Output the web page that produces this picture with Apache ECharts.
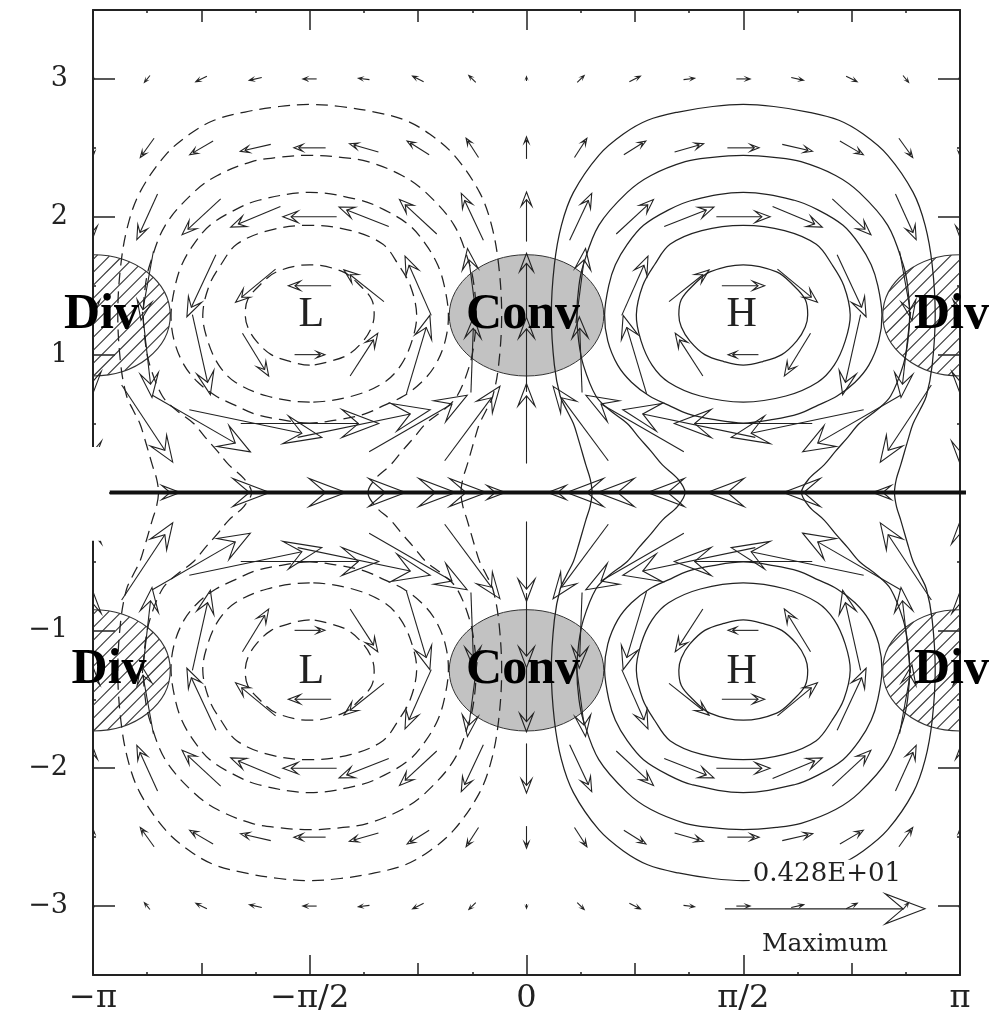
<!DOCTYPE html>
<html>
<head>
<meta charset="utf-8">
<script src="https://cdn.jsdelivr.net/npm/echarts@6/dist/echarts.min.js"></script>
<style>
  html, body { margin: 0; padding: 0; background: #fff; }
  #chart { width: 1002px; height: 1023px; }
</style>
</head>
<body>
<div id="chart"></div>
<script>
const PI = Math.PI;

// axis ticks and labels
const xMajorTicks = [-PI, -PI / 2, 0, PI / 2, PI];
const xTickLabels = ['−π', '−π/2', '0', 'π/2', 'π'];
const xMidTicks = [-3 * PI / 4, -PI / 4, PI / 4, 3 * PI / 4];
const xMinorTicks = [-7 * PI / 8, -5 * PI / 8, -3 * PI / 8, -PI / 8, PI / 8, 3 * PI / 8, 5 * PI / 8, 7 * PI / 8];
const yMajorTicks = [-3, -2, -1, 0, 1, 2, 3];
const yLabelValues = [-3, -2, -1, 1, 2, 3];
const yTickLabels = ['−3', '−2', '−1', '1', '2', '3'];
const yMinorTicks = [-2.5, -1.5, -0.5, 0.5, 1.5, 2.5];

// wind vectors, read for the quadrant x >= 0, y >= 0 (the picture is mirror symmetric)
const windX = [0, PI / 8, PI / 4, 3 * PI / 8, PI / 2, 5 * PI / 8, 3 * PI / 4, 7 * PI / 8, PI];
const windY = [0, 0.5, 1, 1.5, 2, 2.5, 3];
const windU = [
  [0, -0.48, -0.99, -1.33, -1.39, -1.31, -0.99, -0.48, 0],
  [0, -0.40, -0.71, -0.96, -1.00, -0.96, -0.71, -0.37, 0],
  [0, -0.02, -0.17, -0.20, -0.22, -0.19, -0.13, -0.07, 0],
  [0, 0.07, 0.19, 0.29, 0.31, 0.29, 0.21, 0.09, 0],
  [0, 0.16, 0.27, 0.36, 0.39, 0.36, 0.28, 0.15, 0],
  [0, 0.09, 0.16, 0.21, 0.23, 0.22, 0.17, 0.10, 0],
  [0, 0.05, 0.08, 0.08, 0.10, 0.09, 0.08, 0.04, 0]
];
const windV = [
  [0, 0, 0, 0, 0, 0, 0, 0, 0],
  [0.58, 0.54, 0.41, 0.20, 0, -0.20, -0.41, -0.56, -0.58],
  [0.54, 0.55, 0.57, 0.31, 0, -0.31, -0.58, -0.62, -0.56],
  [0.47, 0.54, 0.43, 0.23, 0, -0.24, -0.45, -0.50, -0.47],
  [0.36, 0.34, 0.25, 0.14, 0, -0.15, -0.26, -0.33, -0.30],
  [0.16, 0.14, 0.10, 0.06, 0, -0.05, -0.10, -0.14, -0.12],
  [0.03, 0.05, 0.04, 0.01, 0, -0.02, -0.04, -0.05, -0.03]
];

// pressure contours around H (upper right quadrant), closed ones
const contourE = [[1.571,0.924],[1.712,0.95],[1.85,1.0],[1.959,1.1],[2.02,1.2],[2.038,1.29],[2.02,1.4],[1.937,1.5],[1.813,1.6],[1.571,1.652],[1.329,1.6],[1.205,1.5],[1.122,1.4],[1.104,1.29],[1.122,1.2],[1.183,1.1],[1.292,1.0],[1.43,0.95]];
const contourD = [[1.571,0.656],[1.88,0.7],[2.11,0.8],[2.23,0.924],[2.31,1.1],[2.346,1.29],[2.3,1.5],[2.215,1.652],[2.1,1.8],[1.87,1.9],[1.571,1.938],[1.27,1.9],[1.04,1.8],[0.928,1.652],[0.842,1.5],[0.796,1.29],[0.83,1.1],[0.91,0.924],[1.03,0.8],[1.26,0.7]];
const contourC = [[1.571,0.504],[1.79,0.53],[1.971,0.57],[2.114,0.634],[2.251,0.7],[2.381,0.8],[2.481,0.924],[2.553,1.1],[2.576,1.29],[2.546,1.5],[2.498,1.652],[2.412,1.8],[2.294,1.938],[2.112,2.05],[1.941,2.12],[1.571,2.177],[1.201,2.12],[1.03,2.05],[0.848,1.938],[0.73,1.8],[0.644,1.652],[0.596,1.5],[0.566,1.29],[0.589,1.1],[0.661,0.924],[0.761,0.8],[0.891,0.7],[1.028,0.634],[1.171,0.57],[1.352,0.53]];
// outer contours, from equator to equator (they close through the lower half)
const contourB = [[1.149,0],[1.095,0.1],[0.985,0.2],[0.902,0.3],[0.814,0.4],[0.73,0.5],[0.6,0.6],[0.503,0.7],[0.412,0.924],[0.378,1.1],[0.365,1.29],[0.38,1.5],[0.412,1.652],[0.524,1.938],[0.73,2.177],[0.902,2.3],[1.15,2.4],[1.33,2.43],[1.571,2.446],[1.81,2.43],[1.99,2.4],[2.24,2.3],[2.412,2.177],[2.618,1.938],[2.73,1.652],[2.762,1.5],[2.777,1.29],[2.764,1.1],[2.73,0.924],[2.639,0.7],[2.541,0.6],[2.412,0.5],[2.328,0.4],[2.24,0.3],[2.157,0.2],[2.047,0.1],[1.993,0]];
const contourA = [[0.475,0],[0.461,0.1],[0.43,0.2],[0.372,0.4],[0.34,0.5],[0.29,0.6],[0.244,0.7],[0.202,0.924],[0.18,1.29],[0.202,1.652],[0.253,1.938],[0.34,2.177],[0.524,2.446],[0.702,2.6],[0.878,2.7],[1.1,2.76],[1.35,2.8],[1.571,2.815],[1.792,2.8],[2.04,2.76],[2.264,2.7],[2.44,2.6],[2.618,2.446],[2.802,2.177],[2.889,1.938],[2.94,1.652],[2.962,1.29],[2.94,0.924],[2.898,0.7],[2.852,0.6],[2.802,0.5],[2.77,0.4],[2.712,0.2],[2.681,0.1],[2.667,0]];

// shaded convergence and hatched divergence areas
const convCenters = [[0, 1.285], [0, -1.29]];
const divCenters = [[-PI, 1.285], [PI, 1.285], [-PI, -1.29], [PI, -1.29]];
const blobRadius = [0.56, 0.44];

// text labels
const areaText = ['Div', 'Conv', 'Div', 'Div', 'Conv', 'Div'];
const areaX = [-3.08, -0.025, 3.08, -3.025, -0.025, 3.08];
const areaY = [1.286, 1.286, 1.286, -1.29, -1.29, -1.29];
const centerText = ['L', 'H', 'L', 'H'];
const centerX = [-1.56, 1.56, -1.56, 1.56];
const centerY = [1.29, 1.29, -1.3, -1.3];

const maxValueText = '0.428E+01';
const maxTitle = 'Maximum';
const refArrowTail = [1.438, -3.02];
const refArrowLen = 1.45;
const equatorX = [-3.02, 3.185];
const frameGapY = [0.33, -0.35];

// ---- build series data ----
const mirrorX = pts => pts.map(p => [-p[0], p[1]]);
const mirrorY = pts => pts.map(p => [p[0], -p[1]]);
const acrossEquator = arch => arch.concat(mirrorY(arch.slice(1, -1)).reverse());

const rightLoops = [];
[contourE, contourD, contourC].forEach(c => { rightLoops.push(c, mirrorY(c)); });
[contourB, contourA].forEach(a => rightLoops.push(acrossEquator(a)));
const loops = [];
rightLoops.forEach(l => loops.push({pts: l, dashed: false}));
rightLoops.forEach(l => loops.push({pts: mirrorX(l), dashed: true}));

const arrows = [];
windY.forEach((y, r) => windX.forEach((x, c) => {
  const u = windU[r][c], v = windV[r][c];
  arrows.push([x, y, u, v]);
  if (c > 0) arrows.push([-x, y, -u, v]);
  if (r > 0) {
    arrows.push([x, -y, u, -v]);
    if (c > 0) arrows.push([-x, -y, -u, -v]);
  }
}));

const INK = '#222';

function arrowShape(p0, p1, maxHead) {
  const dx = p1[0] - p0[0], dy = p1[1] - p0[1];
  const len = Math.hypot(dx, dy);
  if (len < 0.5) return null;
  const ux = dx / len, uy = dy / len;
  const h = Math.min(len * 0.28, maxHead);
  const w = h * 0.38;
  const nx = -uy, ny = ux;
  const notch = [p1[0] - ux * h * 0.55, p1[1] - uy * h * 0.55];
  const b1 = [p1[0] - ux * h + nx * w, p1[1] - uy * h + ny * w];
  const b2 = [p1[0] - ux * h - nx * w, p1[1] - uy * h - ny * w];
  return {
    type: 'group',
    children: [
      {type: 'line', shape: {x1: p0[0], y1: p0[1], x2: notch[0], y2: notch[1]}, style: {stroke: INK, lineWidth: 1.1}},
      {type: 'polygon', shape: {points: [p1, b1, notch, b2]}, style: {fill: 'none', stroke: INK, lineWidth: 1.1}}
    ]
  };
}

function blob(api, hatched) {
  const cx = api.value(0), cy = api.value(1);
  const c = api.coord([cx, cy]);
  const rx = Math.abs(api.coord([cx + blobRadius[0], cy])[0] - c[0]);
  const ry = Math.abs(api.coord([cx, cy + blobRadius[1]])[1] - c[1]);
  const children = [];
  if (!hatched) {
    children.push({type: 'ellipse', shape: {cx: c[0], cy: c[1], rx: rx, ry: ry}, style: {fill: '#c2c2c2', stroke: '#333', lineWidth: 1}});
  } else {
    const A = 1 / (rx * rx) + 1 / (ry * ry);
    for (let s = -(rx + ry) + 4; s <= rx + ry; s += 13) {
      const B = -2 * s / (ry * ry);
      const C = s * s / (ry * ry) - 1;
      const disc = B * B - 4 * A * C;
      if (disc <= 0) continue;
      const t1 = (-B - Math.sqrt(disc)) / (2 * A), t2 = (-B + Math.sqrt(disc)) / (2 * A);
      children.push({type: 'line', shape: {x1: c[0] + t1, y1: c[1] + s - t1, x2: c[0] + t2, y2: c[1] + s - t2}, style: {stroke: '#333', lineWidth: 1.1}});
    }
    children.push({type: 'ellipse', shape: {cx: c[0], cy: c[1], rx: rx, ry: ry}, style: {fill: 'none', stroke: '#333', lineWidth: 1.1}});
  }
  return {type: 'group', children: children};
}

function xAx(position, ticks, len, main) {
  return {
    type: 'value', min: -PI, max: PI, position: position,
    axisLine: {show: main, onZero: false, lineStyle: {color: INK, width: 2}},
    axisTick: {show: true, inside: true, length: len, customValues: ticks, lineStyle: {color: INK, width: 1.5}},
    axisLabel: {
      show: main && position === 'bottom', customValues: xMajorTicks, margin: 8,
      formatter: v => xTickLabels[Math.round(v / (PI / 2)) + 2],
      fontFamily: 'DejaVu Serif', fontSize: 32, color: INK
    },
    splitLine: {show: false}
  };
}
function yAx(position, ticks, len, main) {
  return {
    type: 'value', min: -3.5, max: 3.5, position: position,
    axisLine: {show: main, onZero: false, lineStyle: {color: INK, width: 2}},
    axisTick: {show: true, inside: true, length: len, customValues: ticks, lineStyle: {color: INK, width: 1.5}},
    axisLabel: {
      show: main && position === 'left', customValues: yLabelValues, margin: 25,
      formatter: v => yTickLabels[yLabelValues.indexOf(Math.round(v))],
      fontFamily: 'DejaVu Serif', fontSize: 27, color: INK
    },
    splitLine: {show: false}
  };
}

const chart = echarts.init(document.getElementById('chart'));
chart.setOption({
  animation: false,
  backgroundColor: '#fff',
  grid: {left: 93, right: 42, top: 10, bottom: 48},
  xAxis: [
    xAx('bottom', xMajorTicks, 20, true), xAx('bottom', xMidTicks, 12, false), xAx('bottom', xMinorTicks, 3, false),
    xAx('top', xMajorTicks, 20, true), xAx('top', xMidTicks, 12, false), xAx('top', xMinorTicks, 3, false)
  ],
  yAxis: [
    yAx('left', yMajorTicks, 22, true), yAx('left', yMinorTicks, 3, false),
    yAx('right', yMajorTicks, 22, true), yAx('right', yMinorTicks, 3, false)
  ],
  series: [
    {
      type: 'custom', name: 'conv', data: convCenters, encode: {x: 0, y: 1}, z: 1, silent: true, clip: true,
      renderItem: (params, api) => blob(api, false)
    },
    {
      type: 'custom', name: 'div', data: divCenters, encode: {x: 0, y: 1}, z: 1, silent: true, clip: true,
      renderItem: (params, api) => blob(api, true)
    },
    {
      type: 'custom', name: 'contours', data: loops.map((l, i) => [i, 0]), z: 2, silent: true, clip: true,
      renderItem: (params, api) => {
        const loop = loops[params.dataIndex];
        return {
          type: 'polygon',
          shape: {points: loop.pts.map(p => api.coord(p)), smooth: 0.35},
          style: {fill: 'none', stroke: INK, lineWidth: 1.25, lineDash: loop.dashed ? [12, 7] : null}
        };
      }
    },
    {
      type: 'custom', name: 'wind', data: arrows, encode: {x: 0, y: 1}, z: 3, silent: true, clip: true,
      renderItem: (params, api) => {
        const x = api.value(0), y = api.value(1), u = api.value(2), v = api.value(3);
        return arrowShape(api.coord([x - u / 2, y - v / 2]), api.coord([x + u / 2, y + v / 2]), 37);
      }
    },
    {
      type: 'custom', name: 'equator', data: [[0, 0]], z: 4, silent: true, clip: false,
      renderItem: (params, api) => {
        const a = api.coord([equatorX[0], 0]), b = api.coord([equatorX[1], 0]);
        return {type: 'line', shape: {x1: a[0], y1: a[1], x2: b[0], y2: b[1]}, style: {stroke: '#111', lineWidth: 4}};
      }
    },
    {
      type: 'custom', name: 'labels', data: areaText.map((t, i) => [areaX[i], areaY[i]]), encode: {x: 0, y: 1}, z: 5, silent: true, clip: false,
      renderItem: (params, api) => {
        const p = api.coord([api.value(0), api.value(1)]);
        return {type: 'text', x: p[0], y: p[1], style: {
          text: areaText[params.dataIndex], fill: '#000', align: 'center', verticalAlign: 'middle',
          font: 'bold 50px "Liberation Serif"'
        }};
      }
    },
    {
      type: 'custom', name: 'centers', data: centerText.map((t, i) => [centerX[i], centerY[i]]), encode: {x: 0, y: 1}, z: 5, silent: true, clip: false,
      renderItem: (params, api) => {
        const p = api.coord([api.value(0), api.value(1)]);
        return {type: 'text', x: p[0], y: p[1], style: {
          text: centerText[params.dataIndex], fill: INK, align: 'center', verticalAlign: 'middle',
          font: '42px "Liberation Serif"'
        }};
      }
    },
    {
      type: 'custom', name: 'maximum', data: [refArrowTail], encode: {x: 0, y: 1}, z: 5, silent: true, clip: false,
      renderItem: (params, api) => {
        const t = api.coord(refArrowTail);
        const h = api.coord([refArrowTail[0] + refArrowLen, refArrowTail[1]]);
        const top = api.coord([refArrowTail[0] + 0.18, -2.772]);
        const bot = api.coord([refArrowTail[0] + refArrowLen / 2, -3.28]);
        return {type: 'group', children: [
          arrowShape(t, h, 40),
          {type: 'text', x: top[0], y: top[1], style: {
            text: maxValueText, fill: INK, align: 'left', verticalAlign: 'middle',
            font: '26px "DejaVu Serif"', backgroundColor: '#fff', padding: [2, 3]
          }},
          {type: 'text', x: bot[0], y: bot[1], style: {
            text: maxTitle, fill: INK, align: 'center', verticalAlign: 'middle',
            font: '25px "DejaVu Serif"'
          }}
        ]};
      }
    },
    {
      type: 'custom', name: 'frameGap', data: [[-PI, 0]], encode: {x: 0, y: 1}, z: 6, silent: true, clip: false,
      renderItem: (params, api) => {
        const a = api.coord([-PI, frameGapY[0]]), b = api.coord([-PI, frameGapY[1]]);
        return {type: 'rect', shape: {x: a[0] - 6, y: a[1], width: 22, height: b[1] - a[1]}, style: {fill: '#fff'}};
      }
    }
  ]
});
</script>
</body>
</html>
